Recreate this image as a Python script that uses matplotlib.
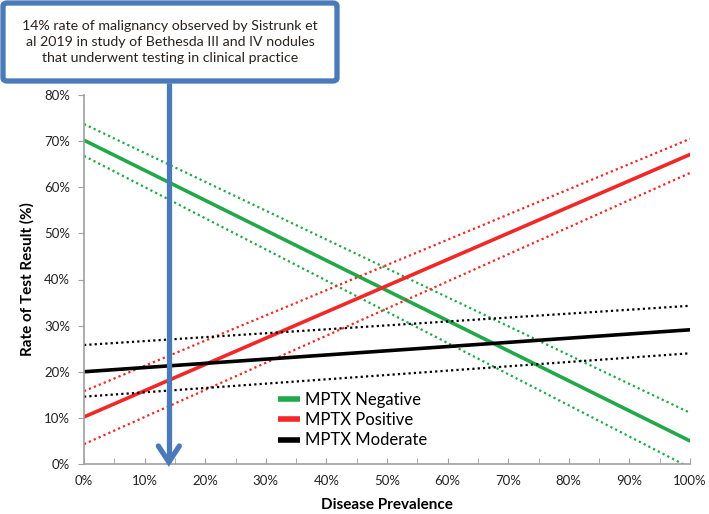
import matplotlib
matplotlib.use("Agg")
import matplotlib.pyplot as plt
from matplotlib.patches import FancyBboxPatch
from matplotlib.lines import Line2D
from matplotlib.ticker import MultipleLocator, FuncFormatter

plt.rcParams['font.family'] = ['Lato', 'DejaVu Sans']

# Data (percent)
prevalence = [0, 100]
neg_mid = [70.2, 5.0]
neg_hi = [73.7, 11.1]
neg_lo = [66.8, -0.8]
pos_mid = [10.2, 67.1]
pos_hi = [15.8, 70.5]
pos_lo = [4.3, 63.1]
mod_mid = [20.0, 29.1]
mod_hi = [25.8, 34.3]
mod_lo = [14.6, 24.0]
observed_prevalence = 14
series_labels = ["MPTX Negative", "MPTX Positive", "MPTX Moderate"]
annotation = ("14% rate of malignancy observed by Sistrunk et\n"
              "al 2019 in study of Bethesda III and IV nodules\n"
              "that underwent testing in clinical practice")

W, H = 709, 514
fig = plt.figure(figsize=(W / 100, H / 100), dpi=100)
ax = fig.add_axes([84 / W, (H - 464) / H, (690 - 84) / W, (464 - 95) / H])

green = '#22a84a'
red = '#f02828'
black = '#000000'
dot = (0, (1, 1.4))

l1, = ax.plot(prevalence, neg_mid, color=green, lw=2.6, solid_capstyle='round')
ax.plot(prevalence, neg_hi, color=green, lw=1.6, ls=dot)
ax.plot(prevalence, neg_lo, color=green, lw=1.6, ls=dot)
l2, = ax.plot(prevalence, pos_mid, color=red, lw=2.6, solid_capstyle='round')
ax.plot(prevalence, pos_hi, color=red, lw=1.6, ls=dot)
ax.plot(prevalence, pos_lo, color=red, lw=1.6, ls=dot)
l3, = ax.plot(prevalence, mod_mid, color=black, lw=2.6, solid_capstyle='round')
ax.plot(prevalence, mod_hi, color=black, lw=1.6, ls=dot)
ax.plot(prevalence, mod_lo, color=black, lw=1.6, ls=dot)

ax.set_xlim(0, 100)
ax.set_ylim(0, 80)
for s in ['top', 'right']:
    ax.spines[s].set_visible(False)
for s in ['left', 'bottom']:
    ax.spines[s].set_color('#a0a0a0')
    ax.spines[s].set_linewidth(1.2)

pct = FuncFormatter(lambda v, p: f"{v:.0f}%")
ax.xaxis.set_major_locator(MultipleLocator(10))
ax.xaxis.set_minor_locator(MultipleLocator(5))
ax.yaxis.set_major_locator(MultipleLocator(10))
ax.xaxis.set_major_formatter(pct)
ax.yaxis.set_major_formatter(pct)
ax.tick_params(axis='both', which='both', color='#a0a0a0', labelsize=9.5, labelcolor='#222222')
ax.tick_params(axis='x', which='both', direction='in', length=4, pad=8)
ax.tick_params(axis='y', direction='out', length=4, pad=6)
ax.tick_params(axis='x', which='minor', direction='in', length=4)

ax.set_xlabel("Disease Prevalence", fontsize=11, fontweight='bold', labelpad=8)
ax.set_ylabel("Rate of Test Result (%)", fontsize=11, fontweight='bold', labelpad=7)

leg = ax.legend([l1, l2, l3], series_labels, loc='upper left',
                bbox_to_anchor=((278 - 84) / (690 - 84), (464 - 392) / (464 - 95)),
                frameon=False, fontsize=12, handlelength=1.3, handletextpad=0.3,
                labelspacing=0.25, borderpad=0, borderaxespad=0)
for h in leg.legend_handles:
    h.set_linewidth(4)
    h.set_solid_capstyle('butt')

# Annotation box
blue = '#4a7ab8'
box = FancyBboxPatch((3 / W, (H - 81) / H), (337 - 3) / W, (81 - 3) / H,
                     boxstyle="round,pad=0,rounding_size=0.006",
                     transform=fig.transFigure, facecolor='white',
                     edgecolor=blue, linewidth=3.8, zorder=5)
fig.patches.append(box)
fig.text(170 / W, (H - 42) / H, annotation, ha='center', va='center',
         fontsize=10.2, color='#2a221c', linespacing=1.35, zorder=6)

# Arrow from box down to observed prevalence (shaft + open chevron head)
tip_x, tip_y = ax.transData.transform((observed_prevalence, 0))
inv = fig.transFigure.inverted()
def fpt(dx, dy):
    return inv.transform((tip_x + dx, tip_y + dy))
top = inv.transform((tip_x, H - 83))
p_tip = fpt(0, 2)
shaft = Line2D([top[0], p_tip[0]], [top[1], p_tip[1]], transform=fig.transFigure,
               color=blue, lw=3.8, solid_capstyle='butt', zorder=4)
a1, a2, a3 = fpt(-10.5, 18), fpt(0, 2), fpt(10.5, 18)
head = Line2D([a1[0], a2[0], a3[0]], [a1[1], a2[1], a3[1]], transform=fig.transFigure,
              color=blue, lw=3.8, solid_capstyle='round', solid_joinstyle='miter', zorder=4)
fig.lines.extend([shaft, head])

fig.savefig("out.png", dpi=100)
